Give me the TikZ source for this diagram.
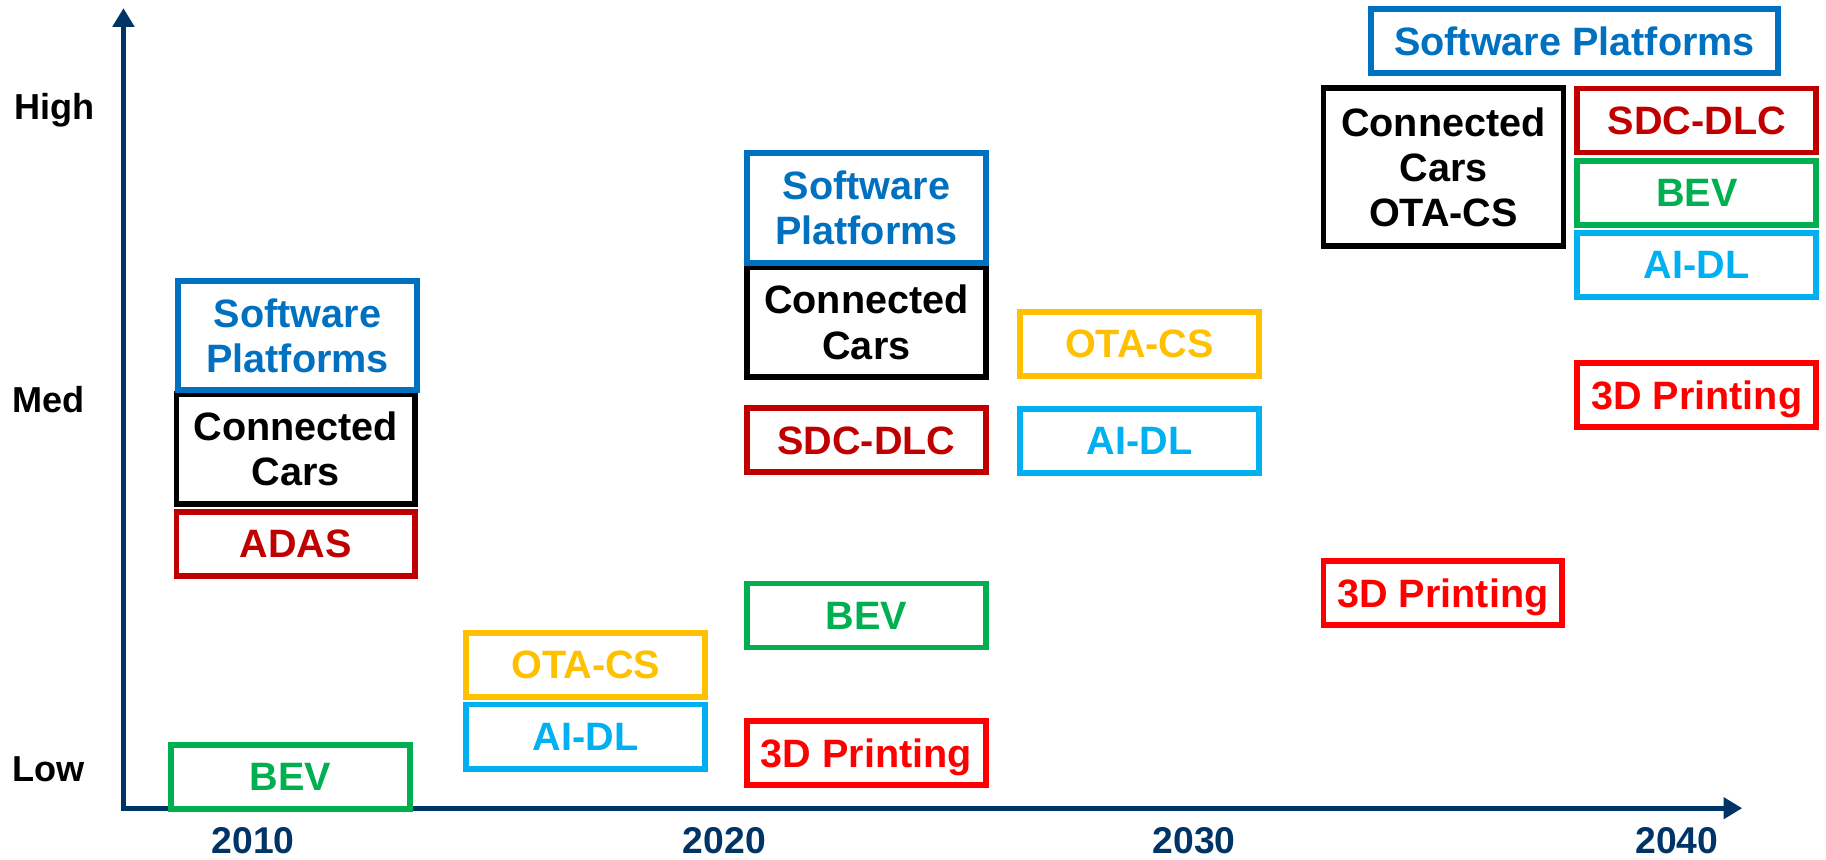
\documentclass[tikz,border=0pt]{standalone}
\usepackage{fontspec}
\setmainfont{Liberation Sans}
\usetikzlibrary{arrows.meta}
\definecolor{axisnavy}{RGB}{0,51,102}
\definecolor{swblue}{RGB}{0,112,192}
\definecolor{darkred}{RGB}{192,0,0}
\definecolor{bevgreen}{RGB}{0,176,80}
\definecolor{otagold}{RGB}{255,192,0}
\definecolor{aiblue}{RGB}{0,176,240}
\definecolor{printred}{RGB}{255,0,0}
\begin{document}
\begin{tikzpicture}[x=0.5pt,y=-0.5pt,
  box/.style={draw=#1, text=#1, line width=2.5pt, inner sep=0pt, align=center,
    minimum width=102.5pt, minimum height=27.5pt, text depth=0pt,
    font=\fontsize{17}{19.5}\selectfont\bfseries},
  tall/.style={minimum height=47pt},
  level/.style={anchor=west, inner sep=0pt, text depth=0pt, font=\fontsize{15.5}{18}\selectfont\bfseries},
  year/.style={text=axisnavy, text depth=0pt, font=\fontsize{16}{18}\selectfont\bfseries},
  axis/.style={draw=axisnavy, line width=2.2pt, -{Triangle[length=8pt,width=9pt]}}
]
\useasboundingbox (0,0) rectangle (1568,738);

% axes
\coordinate (ybase) at (106,696);
\coordinate (ytop) at (106,7);
\coordinate (xbase) at (104.5,694);
\coordinate (xend) at (1496,694);
\draw[axis] (ybase) -- (ytop);
\draw[axis] (xbase) -- (xend);

% level labels
\node[level] (high) at (12,91) {High};
\node[level] (med) at (10,343) {Med};
\node[level] (low) at (10,660) {Low};

% year labels
\node[year] (y2010) at (217.5,722) {2010};
\node[year] (y2020) at (622,722) {2020};
\node[year] (y2030) at (1025.5,722) {2030};
\node[year] (y2040) at (1440,722) {2040};

% 2010
\node[box=black, tall] (cc10) at (254,385.5) {Connected\\Cars};
\node[box=swblue, tall] (sp10) at (255.5,288) {Software\\Platforms};
\node[box=darkred] (adas10) at (254,467) {ADAS};
\node[box=bevgreen] (bev10) at (249.5,667) {BEV};

% 2015
\node[box=otagold] (ota15) at (503,571) {OTA-CS};
\node[box=aiblue] (ai15) at (503,632.5) {AI-DL};

% 2020
\node[box=black, tall] (cc20) at (744,276.5) {Connected\\Cars};
\node[box=swblue, tall] (sp20) at (744,178.5) {Software\\Platforms};
\node[box=darkred] (sdc20) at (744,378) {SDC-DLC};
\node[box=bevgreen] (bev20) at (744,528.5) {BEV};
\node[box=printred] (pr20) at (744,646.5) {3D Printing};

% 2027
\node[box=otagold] (ota27) at (978.5,295.5) {OTA-CS};
\node[box=aiblue] (ai27) at (978.5,378.5) {AI-DL};

% 2033
\node[box=black, minimum width=103pt, minimum height=68pt] (cc33) at (1239.5,143.5) {Connected\\Cars\\OTA-CS};
\node[box=printred] (pr33) at (1239,509) {3D Printing};
\node[box=swblue, minimum width=174.5pt] (sp33) at (1352,35.5) {Software Platforms};

% 2039
\node[box=darkred] (sdc39) at (1457,103.5) {SDC-DLC};
\node[box=bevgreen] (bev39) at (1457,165.5) {BEV};
\node[box=aiblue] (ai39) at (1457,227.5) {AI-DL};
\node[box=printred] (pr39) at (1457,339) {3D Printing};
\end{tikzpicture}
\end{document}
